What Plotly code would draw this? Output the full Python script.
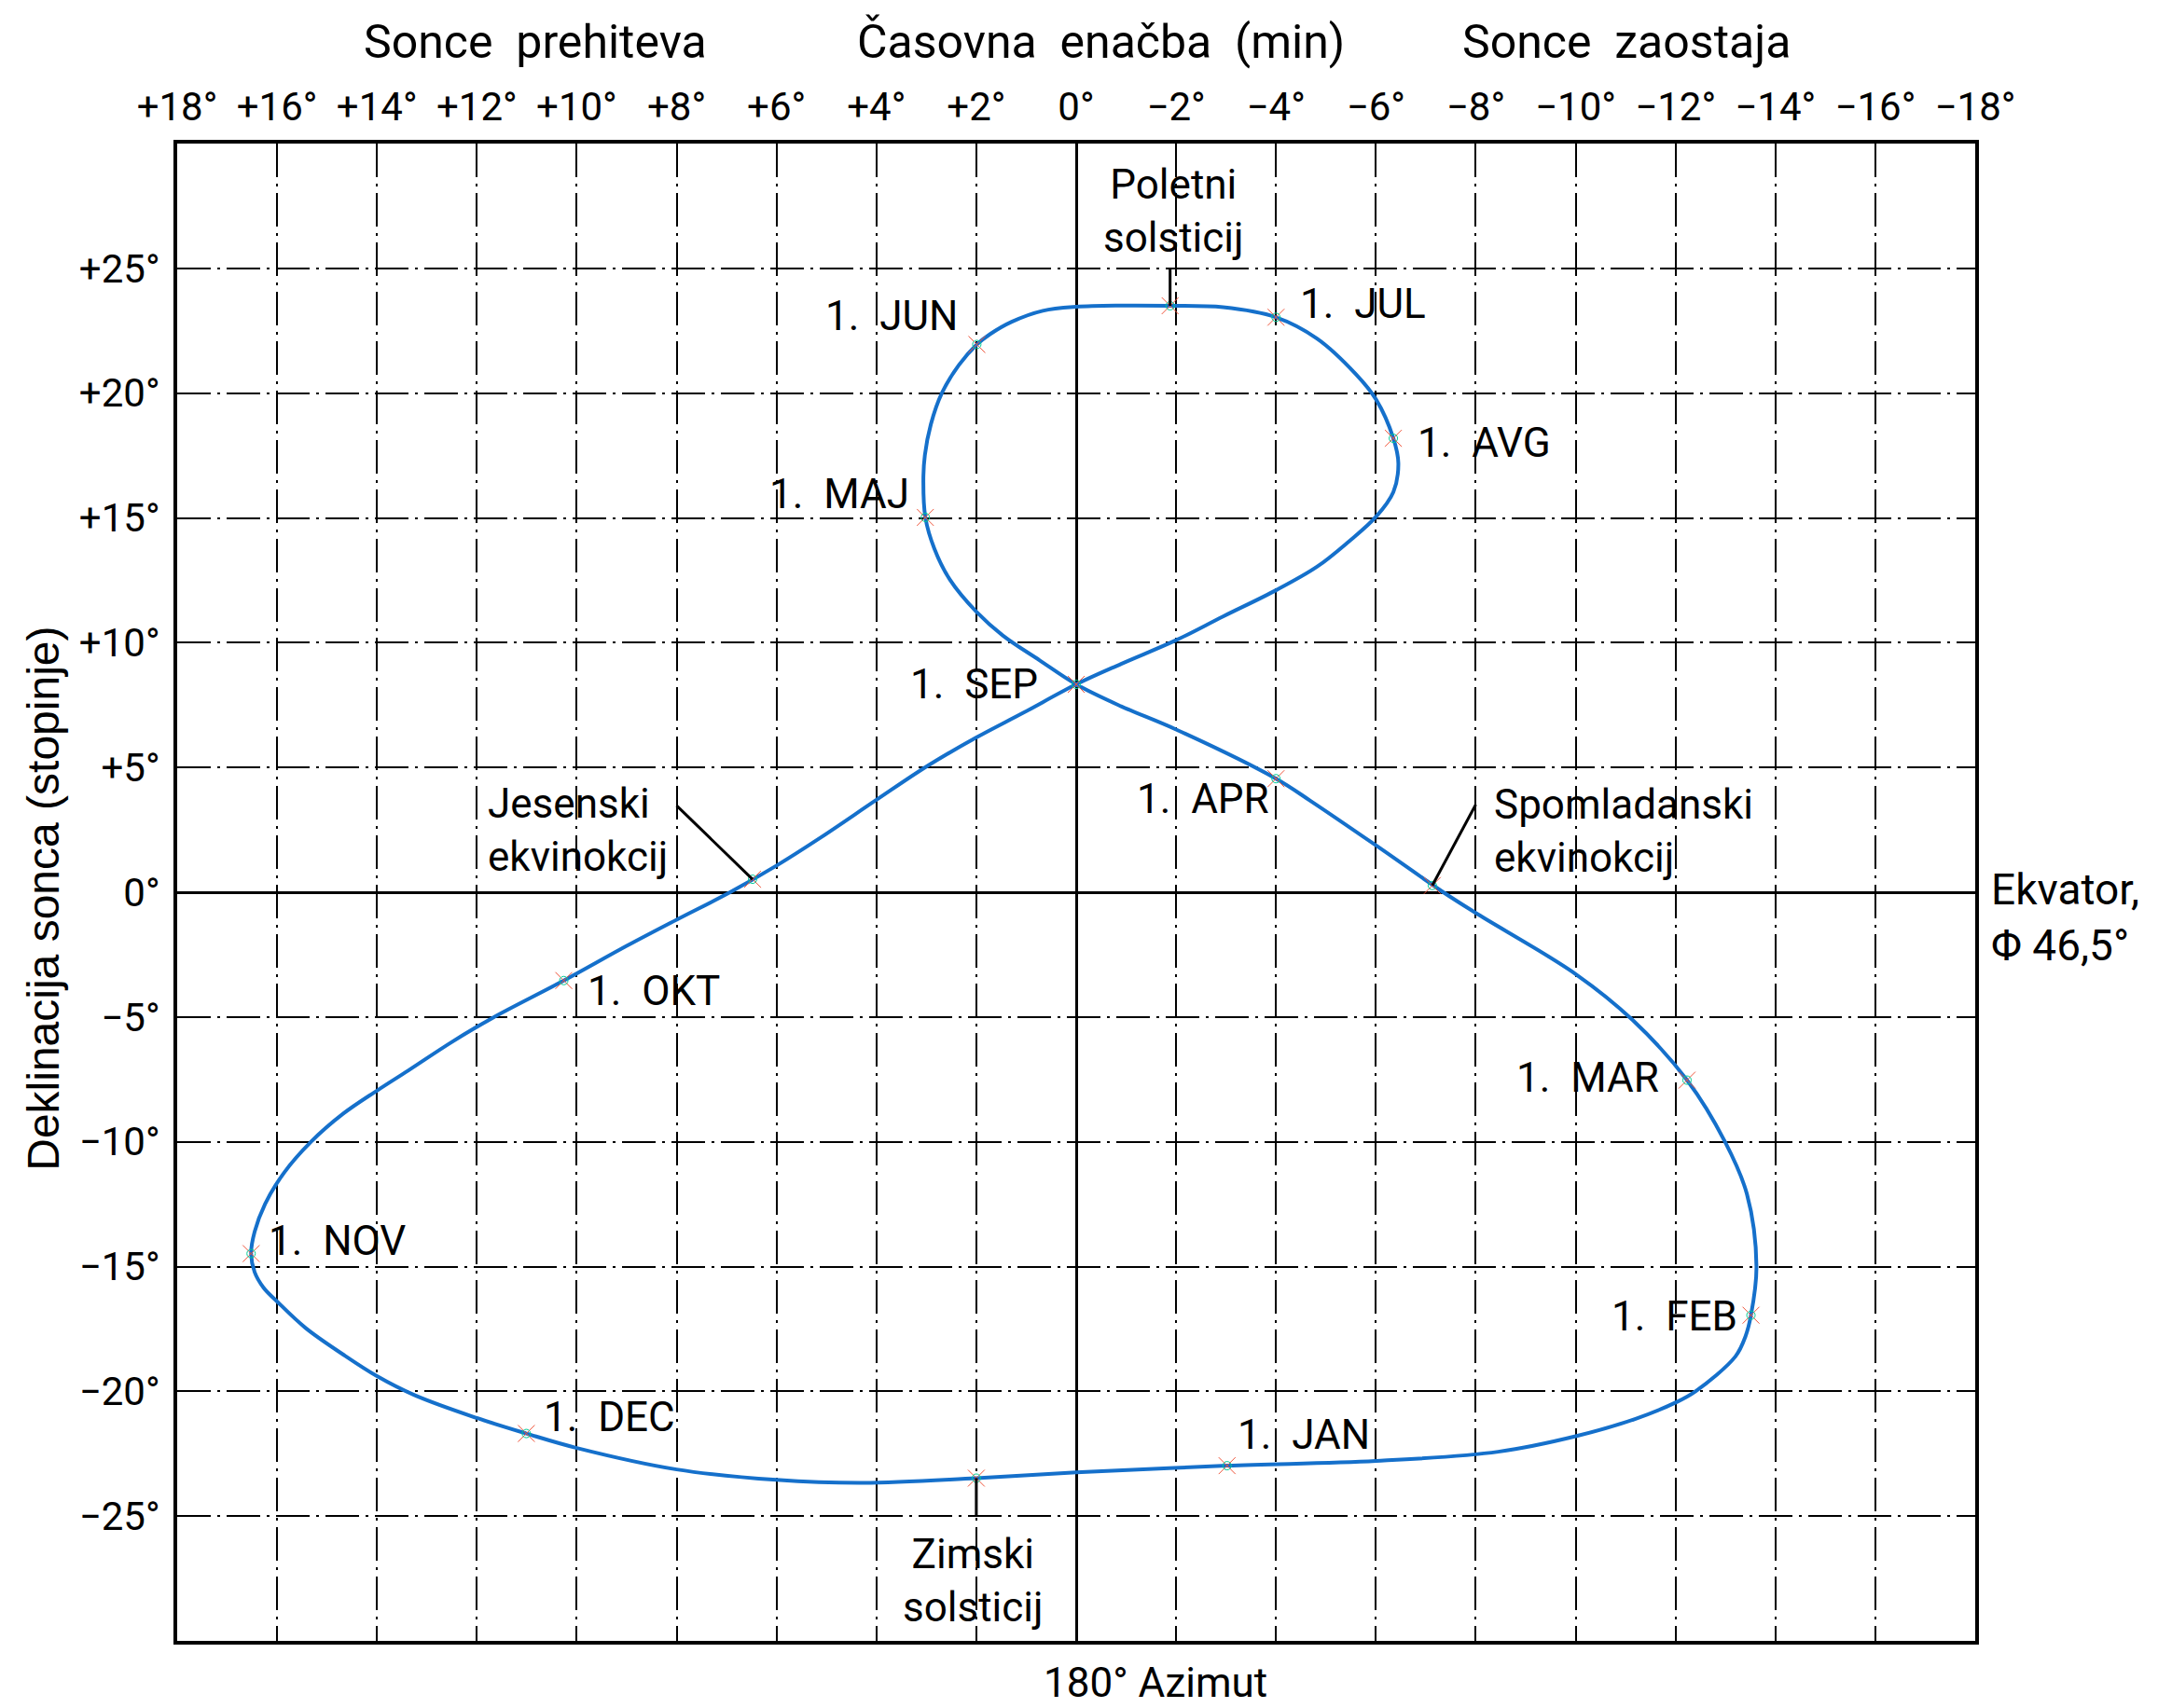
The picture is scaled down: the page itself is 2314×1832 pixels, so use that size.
import plotly.graph_objects as go

# analemma: equation of time (min) vs. solar declination (deg), 1 Jan -> 31 Dec
eot_min = [
    -3.02, -6.0, -8.45, -10.0, -11.2, -12.0, -12.4, -13.2, -13.4, -13.51, -13.62, -13.43, -12.99,
    -12.23, -11.14, -10.0, -8.0, -7.35, -6.0, -4.7, -4.0, -2.0, -0.9, 0.0, 0.73, 1.47, 1.99,
    2.53, 2.84, 3.02, 3.06, 3.03, 2.91, 2.69, 2.35, 1.99, 1.72, 1.29, 0.67, 0.0, -0.9,
    -1.88, -2.94, -4.0, -4.82, -5.6, -6.0, -6.35, -6.45, -6.35, -6.0, -5.45, -4.82, -4.0,
    -2.94, -2.0, -0.9, 0.0, 1.06, 2.0, 2.97, 4.0, 5.11, 5.99, 6.93, 8.0, 9.0, 10.26,
    11.69, 12.5, 13.37, 14.0, 14.68, 15.32, 15.86, 16.24, 16.45, 16.52, 16.45, 16.27, 16.0,
    15.43, 14.68, 14.0, 13.25, 12.0, 11.01, 10.0, 8.0, 6.0, 4.26, 2.0, 0.0, -3.02,
]
decl_deg = [
    -22.98, -22.79, -22.42, -21.8, -21.1, -20.45, -20.0, -18.6, -17.8, -16.95, -15.0, -12.1, -10.0,
    -7.53, -5.12, -3.28, -0.83, 0.0, 1.88, 3.65, 4.55, 6.52, 7.45, 8.33, 9.29, 10.29, 11.22,
    12.53, 13.77, 15.02, 16.51, 17.51, 18.75, 20.0, 21.12, 21.95, 22.37, 22.86, 23.3, 23.46, 23.51,
    23.5, 23.44, 23.04, 22.19, 20.76, 19.76, 18.19, 17.19, 16.04, 15.04, 14.04, 13.04, 12.1,
    11.05, 10.1, 9.15, 8.33, 7.19, 6.2, 5.07, 3.7, 2.2, 1.08, 0.0, -1.1, -2.15, -3.54,
    -5.04, -6.0, -7.14, -7.95, -8.88, -10.0, -11.24, -12.49, -13.61, -14.48, -15.22, -15.85, -16.4,
    -17.46, -18.52, -19.39, -20.15, -21.07, -21.69, -22.27, -23.13, -23.55, -23.67, -23.48, -23.25, -22.98,
]

month_labels = ["1. JAN", "1. FEB", "1. MAR", "1. APR", "1. MAJ", "1. JUN",
                "1. JUL", "1. AVG", "1. SEP", "1. OKT", "1. NOV", "1. DEC"]
month_eot = [-3.02, -13.51, -12.23, -4.0, 3.02, 1.99, -4.0, -6.35, 0.0, 10.26, 16.52, 11.01]
month_decl = [-22.98, -16.95, -7.53, 4.55, 15.02, 21.95, 23.04, 18.19, 8.33, -3.54, -14.48, -21.69]

event_labels = ["Poletni<br>solsticij", "Zimski<br>solsticij", "Jesenski<br>ekvinokcij", "Spomladanski<br>ekvinokcij"]
event_eot = [-1.88, 2.0, 6.48, -7.13]
event_decl = [23.5, -23.48, 0.52, 0.27]

x_ticks = list(range(18, -19, -2))
x_ticktext = [("+" if v > 0 else "\u2212" if v < 0 else "") + f"{abs(v)}°" for v in x_ticks]
y_ticks = list(range(25, -26, -5))
y_ticktext = [("+" if v > 0 else "\u2212" if v < 0 else "") + f"{abs(v)}°" for v in y_ticks]

FONT = "Liberation Sans Narrow, Roboto, sans-serif"
BLUE = "#1570cb"
GRID_DASH = "36px,7px,3px,7px"
NB = "\u00a0"

fig = go.Figure()
fig.add_trace(go.Scatter(x=eot_min, y=decl_deg, mode="lines",
                         line=dict(color=BLUE, width=4, shape="spline", smoothing=1.0),
                         hoverinfo="skip", showlegend=False))
pts_x = month_eot + event_eot
pts_y = month_decl + event_decl
fig.add_trace(go.Scatter(x=pts_x, y=pts_y, mode="markers", showlegend=False, hoverinfo="skip",
                         marker=dict(symbol="x-thin-open", size=18, line=dict(color="#b5b5b5", width=1))))
fig.add_trace(go.Scatter(x=pts_x, y=pts_y, mode="markers", showlegend=False, hoverinfo="skip",
                         marker=dict(symbol="circle-open", size=9, line=dict(color="#b5b5b5", width=1))))

# leader lines from the event labels to the curve
leaders = [((-1.88, 23.5), (-1.88, 25.0)), ((2.0, -23.48), (2.0, -25.0)),
           ((6.48, 0.52), (8.0, 3.47)), ((-7.13, 0.27), (-8.0, 3.51))]
for (x0, y0), (x1, y1) in leaders:
    fig.add_shape(type="line", xref="x", yref="y", x0=x0, y0=y0, x1=x1, y1=y1,
                  line=dict(color="black", width=3))

txt = dict(family=FONT, size=44, color="black")
# (x, y, xanchor)
month_pos = {
    "1. JAN": (-3.2, -21.74, "left"), "1. FEB": (-13.28, -17.0, "right"),
    "1. MAR": (-11.7, -7.45, "right"), "1. APR": (-1.18, 3.75, "left"),
    "1. MAJ": (3.3, 15.95, "right"), "1. JUN": (2.34, 23.07, "right"),
    "1. JUL": (-4.44, 23.57, "left"), "1. AVG": (-6.8, 18.0, "left"),
    "1. SEP": (0.72, 8.33, "right"), "1. OKT": (9.83, -3.97, "left"),
    "1. NOV": (16.2, -13.96, "left"), "1. DEC": (10.69, -21.03, "left"),
}
for lab in month_labels:
    x, y, anc = month_pos[lab]
    fig.add_annotation(x=x, y=y, text=lab.replace(" ", NB + " "), showarrow=False,
                       xanchor=anc, yanchor="middle", font=txt)

event_pos = [(-1.95, 27.3, "center", "center"), (2.07, -27.6, "center", "center"),
             (11.82, 2.48, "left", "left"), (-8.32, 2.43, "left", "left")]
for lab, (x, y, anc, al) in zip(event_labels, event_pos):
    fig.add_annotation(x=x, y=y, text=lab, showarrow=False, xanchor=anc, yanchor="middle",
                       align=al, font=txt)

big = dict(family=FONT, size=50, color="black")
paper = dict(xref="paper", yref="paper", showarrow=False, xanchor="center", yanchor="middle")
fig.add_annotation(x=0.514, y=1.068, text=f"Časovna{NB} enačba{NB} (min)", font=big, **paper)
fig.add_annotation(x=0.199, y=1.068, text=f"Sonce{NB} prehiteva", font=big, **paper)
fig.add_annotation(x=0.806, y=1.068, text=f"Sonce{NB} zaostaja", font=big, **paper)
fig.add_annotation(x=0.544, y=-0.028, text="180° Azimut", font=txt, **paper)
fig.add_annotation(x=-0.0745, y=0.496, text="Deklinacija sonca (stopinje)", textangle=-90,
                   font=dict(family="Liberation Sans, sans-serif", size=48, color="black"), **paper)
fig.add_annotation(x=1.008, y=0.483, text="Ekvator,<br>Φ 46,5°", xref="paper", yref="paper",
                   showarrow=False, xanchor="left", yanchor="middle", align="left",
                   font=dict(family=FONT, size=46, color="black"))

axis_common = dict(showgrid=True, gridcolor="black", gridwidth=1.5, griddash=GRID_DASH,
                   zeroline=True, zerolinecolor="black", zerolinewidth=3,
                   showline=True, linecolor="black", linewidth=4, mirror=True,
                   ticks="", tickfont=dict(family=FONT, size=42, color="black"))
fig.update_xaxes(range=[18, -18], tickvals=x_ticks, ticktext=x_ticktext, side="top",
                 ticklabelstandoff=4, **axis_common)
fig.update_yaxes(range=[-30, 30], tickvals=y_ticks, ticktext=y_ticktext,
                 ticklabelstandoff=6, **axis_common)
fig.update_layout(width=2314, height=1832, margin=dict(l=182, r=204, t=146, b=80),
                  plot_bgcolor="white", paper_bgcolor="white", font=txt)

fig.write_html("out.html")
